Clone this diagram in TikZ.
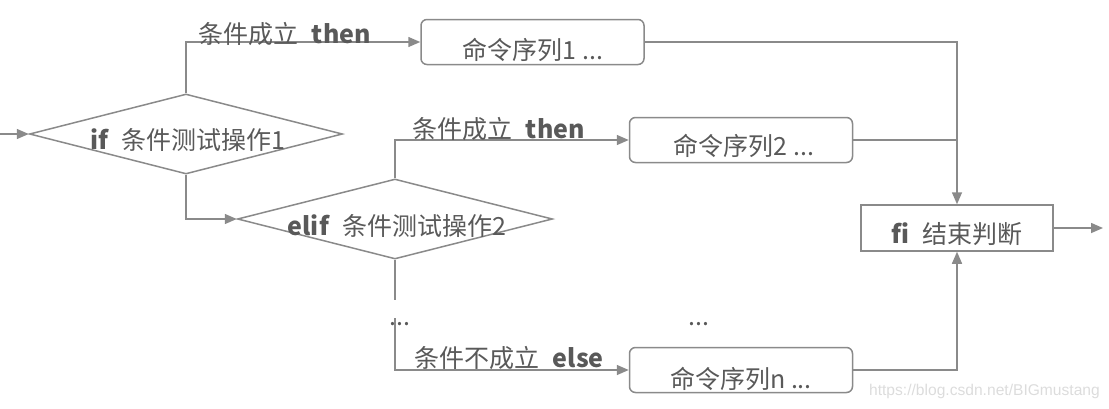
\documentclass[tikz,border=0pt]{standalone}
\usepackage{fontspec}
\setmainfont{Noto Sans CJK SC}
\newfontfamily\wmfont{Liberation Sans}
\usetikzlibrary{shapes.geometric,arrows.meta}
\definecolor{linec}{HTML}{8A8A8A}
\definecolor{textc}{HTML}{595959}
\definecolor{wmc}{HTML}{DCDCDC}
\begin{document}
\begin{tikzpicture}[x=1pt,y=-1pt,
  conn/.style={draw=linec, line width=1.5pt},
  arr/.style={conn, -{Triangle[length=12pt,width=10pt]}},
  cmdbox/.style={draw=linec, line width=1.5pt, rounded corners=6pt, minimum width=223pt, minimum height=45pt, inner sep=0pt},
  finbox/.style={draw=linec, line width=1.5pt, minimum width=192pt, minimum height=46pt, inner sep=0pt},
  cond/.style={draw=linec, line width=1.5pt, diamond, minimum width=313pt, minimum height=80pt, inner sep=0pt},
  txt/.style={text=textc, font=\fontsize{25}{30}\selectfont, inner sep=0pt, anchor=base},
  lbl/.style={txt, anchor=base west},
]
\useasboundingbox (0,0) rectangle (1109,408);
% shapes
\node[cond] (d1) at (186,134) {};
\node[cond, minimum width=315pt] (d2) at (395,219) {};
\node[cmdbox] (b1) at (532.5,42) {};
\node[cmdbox] (b2) at (741,140) {};
\node[cmdbox] (bn) at (741,370) {};
\node[finbox] (fi) at (957,228) {};
% connectors
\coordinate (in) at (0,134);
\coordinate (d2end) at (395,300);
\coordinate (elsestart) at (395,318);
\coordinate (out) at (1103,228);
\draw[arr] (in) -- (d1.west);
\draw[arr] (d1.north) |- (b1.west);
\draw[arr] (b1.east) -| (fi.north);
\draw[arr] (d1.south) |- (d2.west);
\draw[arr] (d2.north) |- (b2.west);
\draw[conn] (b2.east) -- (b2.east -| fi.north);
\draw[conn] (d2.south) -- (d2end);
\draw[arr] (elsestart) |- (bn.west);
\draw[arr] (bn.east) -| (fi.south);
\draw[arr] (fi.east) -- (out);
% texts
\node[lbl] (l1) at (198,43) {条件成立\hspace{0.55em}\textbf{then}};
\node[lbl] (l2) at (412,138) {条件成立\hspace{0.55em}\textbf{then}};
\node[lbl] (l3) at (414,367) {条件不成立\hspace{0.55em}\textbf{else}};
\node[txt] (t1) at (533,59) {命令序列1 ...};
\node[txt] (t2) at (744,155) {命令序列2 ...};
\node[txt] (tn) at (741,388) {命令序列n ...};
\node[txt] (tf) at (957,243) {\textbf{fi}\hspace{0.5em}结束判断};
\node[txt] (td1) at (188,149) {\textbf{if}\hspace{0.5em}条件测试操作1};
\node[txt] (td2) at (397,235) {\textbf{elif}\hspace{0.5em}条件测试操作2};
\node[txt] (dots1) at (400,325) {...};
\node[txt] (dots2) at (699,325) {...};
\node[anchor=base east, text=wmc, font=\wmfont\fontsize{15.6}{19}\selectfont, inner sep=0pt] (wm) at (1100,395) {https://blog.csdn.net/BIGmustang};
\end{tikzpicture}
\end{document}
